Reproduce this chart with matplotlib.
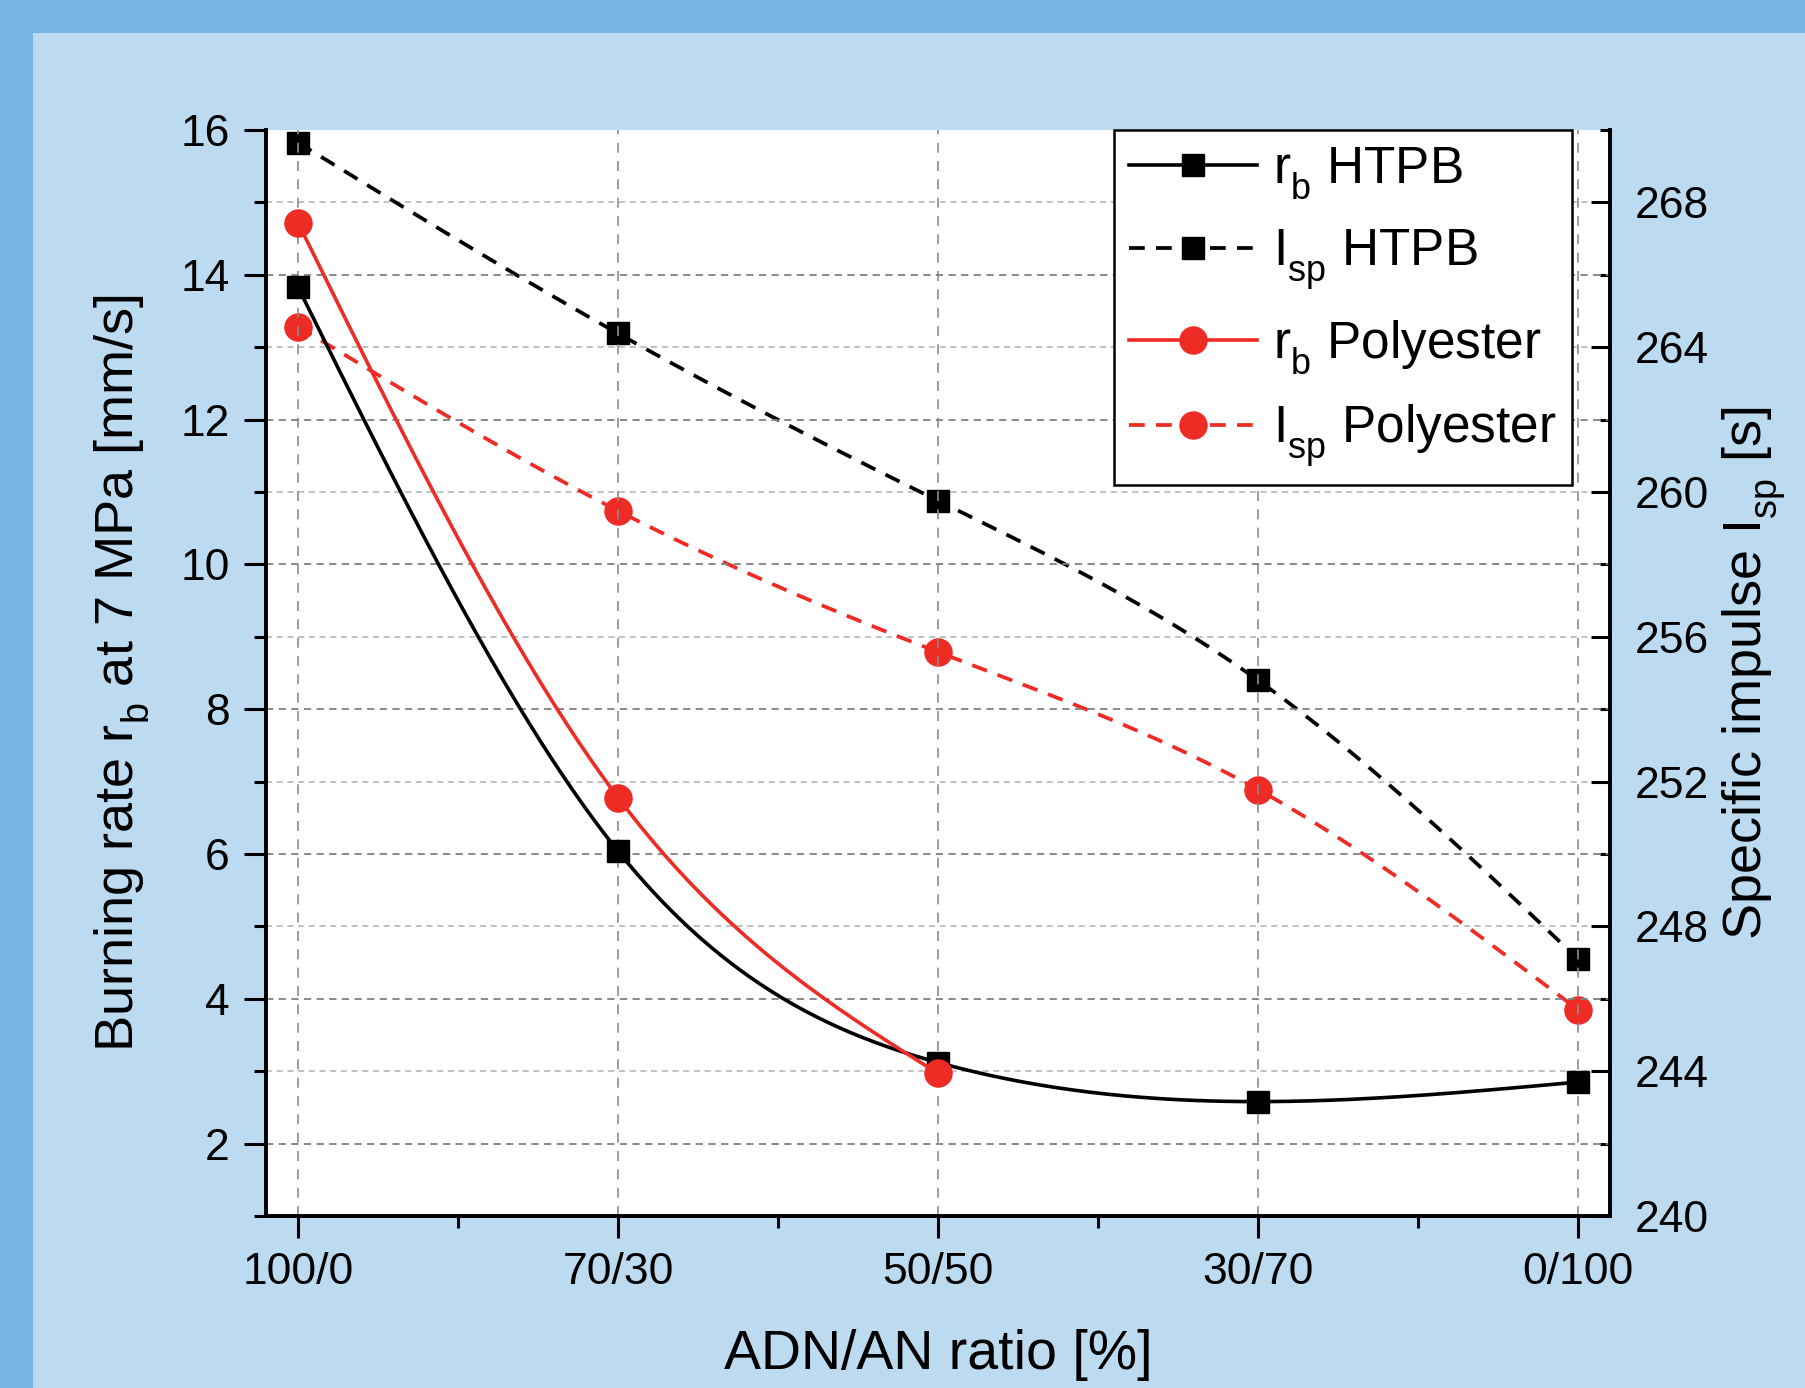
import numpy as np
import matplotlib
matplotlib.use("Agg")
import matplotlib.pyplot as plt
from matplotlib.ticker import MultipleLocator
from matplotlib.patches import Rectangle

plt.rcParams['font.family'] = ['Liberation Sans', 'DejaVu Sans']
plt.rcParams['mathtext.fontset'] = 'custom'
plt.rcParams['mathtext.rm'] = 'Liberation Sans'
# Origin drops its subscripts a bit lower than mathtext does
try:
    from matplotlib import _mathtext
    _mathtext.FontConstantsBase.sub1 = 0.6
    _mathtext.FontConstantsBase.sub2 = 0.75
except Exception:
    pass

# data
ratios = ['100/0', '70/30', '50/50', '30/70', '0/100']
rb_htpb = [13.83, 6.04, 3.12, 2.58, 2.85]
rb_poly = [14.72, 6.78, 2.97]
isp_htpb = [269.65, 264.38, 259.76, 254.8, 247.1]
isp_poly = [264.57, 259.48, 255.58, 251.78, 245.7]

RED = '#ee2b24'
DASH = (0, (4.2, 3.0))


def spline(x, y, n=300):
    # natural cubic spline, just for drawing the smooth connection like Origin does
    x = np.asarray(x, float)
    y = np.asarray(y, float)
    k = len(x)
    h = np.diff(x)
    A = np.zeros((k, k))
    b = np.zeros(k)
    A[0, 0] = A[-1, -1] = 1
    for i in range(1, k - 1):
        A[i, i - 1] = h[i - 1]
        A[i, i] = 2 * (h[i - 1] + h[i])
        A[i, i + 1] = h[i]
        b[i] = 3 * ((y[i + 1] - y[i]) / h[i] - (y[i] - y[i - 1]) / h[i - 1])
    c = np.linalg.solve(A, b)
    bb = (y[1:] - y[:-1]) / h - h * (2 * c[:-1] + c[1:]) / 3
    d = (c[1:] - c[:-1]) / (3 * h)
    xs = np.linspace(x[0], x[-1], n)
    idx = np.clip(np.searchsorted(x, xs) - 1, 0, k - 2)
    dx = xs - x[idx]
    ys = y[idx] + bb[idx] * dx + c[idx] * dx ** 2 + d[idx] * dx ** 3
    return xs, ys


fig = plt.figure(figsize=(18.05, 13.88), dpi=100, facecolor='#79b5e3')
fig.add_artist(Rectangle((33 / 1805, 0), 1, 1 - 33 / 1388, transform=fig.transFigure,
                         facecolor='#bcdbf1', edgecolor='none', zorder=-10))

ax = fig.add_axes([266 / 1805, 1 - 1216 / 1388, 1344 / 1805, 1086 / 1388])
ax2 = ax.twinx()
ax2.set_zorder(ax.get_zorder() - 1)
ax.patch.set_visible(False)
ax2.patch.set_facecolor('white')
ax2.patch.set_visible(True)

x = np.arange(len(ratios))

# Isp on the right axis
xs, ys = spline(x, isp_htpb)
ax2.plot(xs, ys, color='black', lw=2.7, ls=DASH)
ax2.plot(x, isp_htpb, 's', color='black', ms=16.5, ls='none')
xs, ys = spline(x, isp_poly)
ax2.plot(xs, ys, color=RED, lw=2.7, ls=DASH)
ax2.plot(x, isp_poly, 'o', color=RED, ms=19.5, ls='none')

# burning rate on the left axis
xs, ys = spline(x, rb_htpb)
ax.plot(xs, ys, color='black', lw=2.6)
ax.plot(x, rb_htpb, 's', color='black', ms=16.5, ls='none')
xs, ys = spline(x[:len(rb_poly)], rb_poly)
ax.plot(xs, ys, color=RED, lw=2.6)
ax.plot(x[:len(rb_poly)], rb_poly, 'o', color=RED, ms=19.5, ls='none')

ax.set_xlim(-0.1, 4.1)
ax.set_ylim(1, 16)
ax2.set_ylim(240, 270)

ax.set_xticks(x)
ax.set_xticklabels(ratios)
ax.xaxis.set_minor_locator(MultipleLocator(0.5))
ax.set_yticks(np.arange(2, 17, 2))
ax.yaxis.set_minor_locator(MultipleLocator(1))
ax2.yaxis.set_major_locator(MultipleLocator(4))
ax2.yaxis.set_minor_locator(MultipleLocator(2))

ax.tick_params(axis='both', which='major', direction='out', length=16, width=2.2,
               labelsize=32, pad=10)
ax.tick_params(axis='both', which='minor', direction='out', length=8.5, width=2.2)
ax.tick_params(axis='y', which='both', right=False)
ax2.tick_params(axis='y', which='major', direction='in', length=14, width=2.2,
                labelsize=32, pad=18)
ax2.tick_params(axis='y', which='minor', direction='in', length=7, width=2.2)

for a in (ax, ax2):
    a.spines['top'].set_visible(False)
    for s in ('left', 'right', 'bottom'):
        a.spines[s].set_linewidth(2.6)

ax.grid(True, axis='y', which='major', color='#808080', lw=1.3, ls=(0, (4, 3)))
ax.grid(True, axis='x', which='major', color='#8c8c8c', lw=1.2, ls=(0, (6, 5)))
ax2.grid(True, axis='y', which='major', color='#b0b0b0', lw=1.1, ls=(0, (4, 3)))
# no grid line along the top edge (16)
ax.get_ygridlines()[-1].set_visible(False)

ax.set_xlabel('ADN/AN ratio [%]', fontsize=40)
ax.xaxis.set_label_coords(0.5, -0.128)
ax.xaxis.label.set_va('center')
ax.set_ylabel('Burning rate $\\mathregular{r_b}$ at 7 MPa [mm/s]', fontsize=39)
ax.yaxis.set_label_coords(-0.107, 0.5)
ax.yaxis.label.set_va('center')
ax2.set_ylabel('Specific impulse $\\mathregular{I_{sp}}$ [s]', fontsize=39, rotation=90)
ax2.yaxis.set_label_coords(1.108, 0.5)
ax2.yaxis.label.set_va('center')

h1 = plt.Line2D([], [], color='black', lw=2.6, marker='s', ms=16.5)
h2 = plt.Line2D([], [], color='black', lw=2.7, ls=DASH, marker='s', ms=16.5)
h3 = plt.Line2D([], [], color=RED, lw=2.6, marker='o', ms=19.5)
h4 = plt.Line2D([], [], color=RED, lw=2.7, ls=DASH, marker='o', ms=19.5)
leg = ax.legend([h1, h2, h3, h4],
                ['$\\mathregular{r_b}$ HTPB', '$\\mathregular{I_{sp}}$ HTPB',
                 '$\\mathregular{r_b}$ Polyester', '$\\mathregular{I_{sp}}$ Polyester'],
                loc='upper right', bbox_to_anchor=(0.9717, 1.0), borderaxespad=0,
                fontsize=37, fancybox=False, framealpha=1, edgecolor='black',
                handlelength=2.5, handletextpad=0.3, borderpad=0.3,
                labelspacing=0.5, numpoints=1)
leg.get_frame().set_linewidth(1.8)

fig.savefig('out.png', dpi=100, facecolor=fig.get_facecolor())
